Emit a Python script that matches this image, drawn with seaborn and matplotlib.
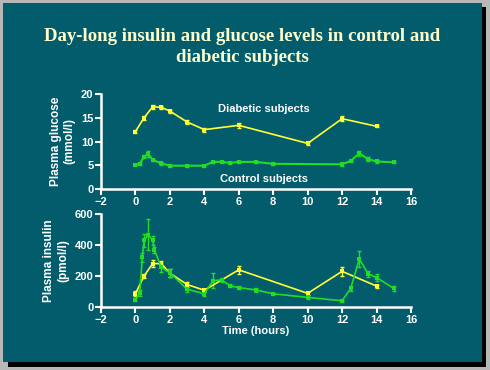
import matplotlib
matplotlib.use("Agg")
import matplotlib.pyplot as plt
import seaborn as sns
from matplotlib.patches import Rectangle

sns.set_style("ticks")
plt.rcParams['font.family'] = ['Liberation Sans', 'DejaVu Sans']

# glucose (mmol/l)
diab_gluc_t = [0, 0.5, 1, 1.5, 2, 3, 4, 6, 10, 12, 14]
diab_gluc = [12.1, 15.0, 17.3, 17.2, 16.4, 14.1, 12.5, 13.4, 9.6, 14.8, 13.2]
diab_gluc_err = [0.3, 0.4, 0.4, 0.3, 0.3, 0.4, 0.4, 0.5, 0.3, 0.5, 0.2]

ctrl_gluc_t = [0, 0.25, 0.5, 0.75, 1, 1.5, 2, 3, 4, 4.5, 5, 5.5, 6, 7, 8, 12, 12.5, 13, 13.5, 14, 15]
ctrl_gluc = [5.1, 5.3, 6.8, 7.4, 6.1, 5.4, 4.9, 4.9, 4.9, 5.7, 5.7, 5.5, 5.7, 5.7, 5.3, 5.2, 5.9, 7.5, 6.3, 5.8, 5.6]
ctrl_gluc_err = [0.2, 0.2, 0.3, 0.6, 0.3, 0.3, 0.2, 0.2, 0.2, 0.2, 0.2, 0.2, 0.2, 0.2, 0.2, 0.3, 0.3, 0.5, 0.4, 0.3, 0.2]

# insulin (pmol/l)
diab_ins_t = [0, 0.5, 1, 1.5, 2, 3, 4, 6, 10, 12, 14]
diab_ins = [86, 200, 280, 280, 218, 145, 108, 240, 88, 230, 135]
diab_ins_err = [15, 12, 25, 20, 25, 15, 10, 25, 12, 28, 10]

ctrl_ins_t = [0, 0.25, 0.4, 0.5, 0.75, 1.0, 1.1, 1.5, 2, 3, 4, 4.5, 5, 5.5, 6, 7, 8, 10, 12, 12.5, 13, 13.5, 14, 15]
ctrl_ins = [47, 90, 320, 430, 465, 430, 370, 255, 220, 115, 85, 170, 175, 137, 125, 110, 85, 62, 40, 120, 310, 215, 190, 120]
ctrl_ins_err = [10, 20, 30, 40, 100, 30, 20, 30, 25, 15, 12, 50, 15, 10, 10, 12, 8, 8, 8, 15, 50, 20, 20, 15]

yellow = '#ffff33'
green = '#22dd22'
teal = '#025c6c'
fg = 'white'

fig = plt.figure(figsize=(4.9, 3.7), dpi=100)
fig.patch.set_facecolor('#b8b8b8')
fig.patches.append(Rectangle((8 / 490, 1 - 367 / 370), 478 / 490, 360 / 370, transform=fig.transFigure,
                             facecolor='black', edgecolor='none', zorder=-2))
fig.patches.append(Rectangle((3 / 490, 1 - 362 / 370), 479 / 490, 359 / 370, transform=fig.transFigure,
                             facecolor=teal, edgecolor='none', zorder=-1))

fig.text(0.494, 1 - 47 / 370,
         "Day-long insulin and glucose levels in control and\ndiabetic subjects",
         ha='center', va='center', family='Liberation Serif', fontweight='bold',
         fontsize=13.5, color='#ffffcc', linespacing=1.3)

ax1 = fig.add_axes([101 / 490, 1 - 189 / 370, 310 / 490, 95 / 370])
ax2 = fig.add_axes([101 / 490, 1 - 307 / 370, 310 / 490, 93 / 370])


def series(ax, t, v, e, col, lw):
    ax.errorbar(t, v, yerr=e, fmt='none', ecolor=col, elinewidth=1.0, capsize=1.5, capthick=1.0, zorder=3)
    sns.lineplot(x=t, y=v, ax=ax, color=col, lw=lw, marker='s', markersize=3,
                 markeredgewidth=0, sort=False, zorder=4)


series(ax1, diab_gluc_t, diab_gluc, diab_gluc_err, yellow, 1.2)
series(ax1, ctrl_gluc_t, ctrl_gluc, ctrl_gluc_err, green, 1.5)
series(ax2, diab_ins_t, diab_ins, diab_ins_err, yellow, 1.2)
series(ax2, ctrl_ins_t, ctrl_ins, ctrl_ins_err, green, 1.2)

ax1.text(7.45, 16.8, "Diabetic subjects", color=fg, fontsize=8, fontweight='bold', ha='center', va='center')
ax1.text(7.45, 2.2, "Control subjects", color=fg, fontsize=8, fontweight='bold', ha='center', va='center')

ax1.set_ylim(0, 20)
ax1.set_yticks([0, 5, 10, 15, 20])
ax2.set_ylim(0, 600)
ax2.set_yticks([0, 200, 400, 600])
ax1.set_ylabel("Plasma glucose\n(mmol/l)", color=fg, fontsize=8.5, fontweight='bold', labelpad=4)
ax2.set_ylabel("Plasma insulin\n(pmol/l)", color=fg, fontsize=8.5, fontweight='bold', labelpad=4)
ax2.set_xlabel("Time (hours)", color=fg, fontsize=8, fontweight='bold', labelpad=1)

for ax in (ax1, ax2):
    ax.set_facecolor('none')
    ax.set_xlim(-2, 16)
    ax.set_xticks(range(-2, 17, 2))
    sns.despine(ax=ax)
    for s in ('left', 'bottom'):
        ax.spines[s].set_color(fg)
        ax.spines[s].set_linewidth(1.8)
    ax.tick_params(colors=fg, width=1.5, length=4, labelsize=8, pad=1.5)
    for lab in ax.get_xticklabels() + ax.get_yticklabels():
        lab.set_fontweight('bold')

fig.savefig("out.png", dpi=100, facecolor=fig.get_facecolor())
